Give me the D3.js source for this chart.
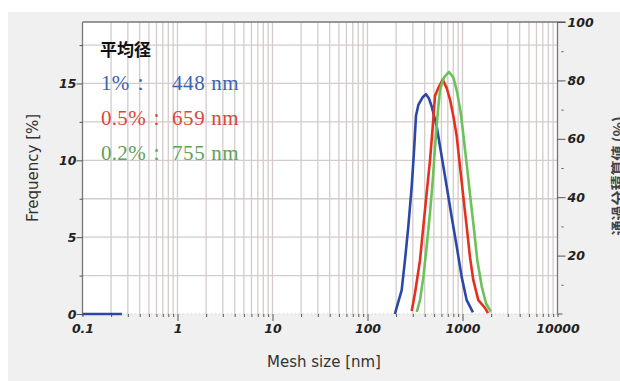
<!DOCTYPE html>
<html>
<head>
<meta charset="utf-8">
<script src="https://cdnjs.cloudflare.com/ajax/libs/d3/7.8.5/d3.min.js"></script>
<style>
  body { margin: 0; background: #fff; }
  svg { display: block; }
</style>
</head>
<body>
<svg id="chart" width="620" height="381"></svg>
<script>
// data: [size nm, frequency %]
var blueData = [[194, 0], [229, 1.56], [248, 3.5], [269, 5.7], [292, 8.3], [308, 10.5], [324, 12.9], [343, 13.6],
  [380, 14.1], [413, 14.3], [445, 14.0], [474, 13.5], [535, 12.2], [604, 10.25], [682, 8.3], [770, 6.3], [869, 4.4], [981, 2.4],
  [1107, 0.9], [1288, 0.1]]
var redData = [[292, 0.2], [316, 1.35], [357, 3.5], [387, 5.7], [420, 7.9], [455, 10.0], [486, 12.2], [514, 14.2],
  [556, 14.7], [619, 15.25], [682, 14.7], [739, 13.95], [800, 12.9], [868, 11.6], [941, 9.6], [1019, 7.65],
  [1106, 5.7], [1199, 3.7], [1300, 2.2], [1467, 0.9], [1725, 0.4], [1855, 0.05]]
var greenData = [[330, 0.13], [357, 0.9], [387, 2.4], [420, 4.4], [455, 6.6], [486, 8.7], [514, 10.9], [549, 13.1],
  [580, 14.6], [638, 15.4], [721, 15.75], [800, 15.4], [881, 14.4], [957, 13.1], [1037, 11.3], [1124, 9.4],
  [1219, 7.4], [1321, 5.5], [1432, 3.5], [1593, 1.8], [1766, 0.7], [1982, 0.15]]
var blueBase = [[0.1, 0], [0.26, 0]]

var xTickVals = [0.1, 1, 10, 100, 1000, 10000]
var xTickLabels = ['0.1', '1', '10', '100', '1000', '10000']
var yTickVals = [0, 5, 10, 15]
var y2TickVals = [20, 40, 60, 80, 100]

var legendTitle = '平均径'
var legendRows = [
  { pct: '1%：', val: '448 nm', color: '#3d63ae' },
  { pct: '0.5%：', val: '659 nm', color: '#d9483a' },
  { pct: '0.2%：', val: '755 nm', color: '#5ea256' }
]

var svg = d3.select('#chart')

var margin = { left: 82.5, right: 62.5, top: 22, bottom: 67 }
var W = 620, H = 381

// gray panel
svg.append('rect').attr('x', 8).attr('y', 12).attr('width', W - 8).attr('height', H - 12).attr('fill', '#f0f0f0')

var x = d3.scaleLog().domain([0.1, 10000]).range([margin.left, W - margin.right])
var y = d3.scaleLinear().domain([0, 19]).range([H - margin.bottom, margin.top])
var y2 = d3.scaleLinear().domain([0, 100]).range([H - margin.bottom, margin.top])

var x0 = x.range()[0], x1 = x.range()[1], yb = y.range()[0], yt = y.range()[1]

svg.append('rect').attr('x', x0).attr('y', yt).attr('width', x1 - x0).attr('height', yb - yt).attr('fill', '#fff')

// grid
var xGrid = []
for (var e = -1; e < 4; e++) {
  for (var m = 1; m < 10; m++) xGrid.push(m * Math.pow(10, e))
}
var yGrid = d3.range(2.5, 19, 2.5)

var grid = svg.append('g')
grid.selectAll('.vg').data(xGrid.filter(function (d) { return d > 0.1 }))
  .enter().append('line')
  .attr('x1', function (d) { return x(d) }).attr('x2', function (d) { return x(d) })
  .attr('y1', yt).attr('y2', yb)
  .attr('stroke', '#d3cbcb').attr('stroke-width', 1.3)
grid.selectAll('.hg').data(yGrid)
  .enter().append('line')
  .attr('x1', x0).attr('x2', x1)
  .attr('y1', function (d) { return y(d) }).attr('y2', function (d) { return y(d) })
  .attr('stroke', '#d6cbcb').attr('stroke-width', 1.3)

// frame
svg.append('line').attr('x1', x0).attr('x2', x1 + 8).attr('y1', yt).attr('y2', yt).attr('stroke', '#777').attr('stroke-width', 1.3)
svg.append('line').attr('x1', x0).attr('x2', x0).attr('y1', yt).attr('y2', yb + 2).attr('stroke', '#777').attr('stroke-width', 1.3)
svg.append('line').attr('x1', x1).attr('x2', x1).attr('y1', yt).attr('y2', yb).attr('stroke', '#777').attr('stroke-width', 1.3)
svg.append('line').attr('x1', x1).attr('x2', x1 + 5).attr('y1', yb).attr('y2', yb).attr('stroke', '#777').attr('stroke-width', 1.3)
svg.append('line').attr('x1', x0).attr('x2', x1).attr('y1', yb).attr('y2', yb)
  .attr('stroke', '#d8d4c8').attr('stroke-width', 1).attr('stroke-dasharray', '2,2')

var tickFont = 'DejaVu Sans, Verdana, sans-serif'

// x axis
var xAxis = d3.axisBottom(x)
  .tickValues(xGrid.concat([10000]))
  .tickSize(3)
  .tickFormat(function (d) {
    var i = xTickVals.indexOf(d)
    return i >= 0 ? xTickLabels[i] : ''
  })
var gx = svg.append('g').attr('transform', 'translate(0,' + yb + ')').call(xAxis)
gx.select('.domain').remove()
gx.selectAll('.tick line')
  .attr('stroke', '#555')
  .attr('y2', function (d) { return xTickVals.indexOf(d) >= 0 && d > 0.1 && d < 10000 ? 7 : 3 })
gx.selectAll('.tick text')
  .attr('y', 10)
  .attr('dy', '0.71em')
  .attr('font-family', tickFont).attr('font-size', 12.5)
  .attr('font-weight', 'bold').attr('font-style', 'italic')
  .attr('fill', '#222')

// left axis
var yAxis = d3.axisLeft(y).tickValues(yTickVals.concat([2.5, 7.5, 12.5, 17.5]))
  .tickSize(6)
  .tickFormat(function (d) { return yTickVals.indexOf(d) >= 0 ? d : '' })
var gy = svg.append('g').attr('transform', 'translate(' + x0 + ',0)').call(yAxis)
gy.select('.domain').remove()
gy.selectAll('.tick line').attr('stroke', '#555')
  .attr('x2', function (d) { return yTickVals.indexOf(d) >= 0 ? -6 : -3 })
gy.selectAll('.tick text')
  .attr('x', -6)
  .attr('font-family', tickFont).attr('font-size', 12.5)
  .attr('font-weight', 'bold').attr('font-style', 'italic')
  .attr('fill', '#222')

// right axis
var y2Axis = d3.axisRight(y2).tickValues(y2TickVals.concat([10, 30, 50, 70, 90]))
  .tickSize(8)
  .tickFormat(function (d) { return y2TickVals.indexOf(d) >= 0 ? d : '' })
var gy2 = svg.append('g').attr('transform', 'translate(' + x1 + ',0)').call(y2Axis)
gy2.select('.domain').remove()
gy2.selectAll('.tick line').attr('stroke', '#555')
  .attr('x1', function (d) { return y2TickVals.indexOf(d) >= 0 ? 0 : 4 })
  .attr('x2', function (d) { return y2TickVals.indexOf(d) >= 0 ? 8 : 6 })
gy2.selectAll('.tick text')
  .attr('x', 10)
  .attr('font-family', tickFont).attr('font-size', 12.5)
  .attr('font-weight', 'bold').attr('font-style', 'italic')
  .attr('fill', '#222')

// axis titles
svg.append('text')
  .attr('transform', 'translate(38,' + ((yt + yb) / 2) + ') rotate(-90)')
  .attr('text-anchor', 'middle')
  .attr('font-family', tickFont).attr('font-size', 15).attr('fill', '#333')
  .text('Frequency [%]')
svg.append('text')
  .attr('x', (x0 + x1) / 2 + 4).attr('y', 367)
  .attr('text-anchor', 'middle')
  .attr('font-family', tickFont).attr('font-size', 15).attr('fill', '#333')
  .text('Mesh size [nm]')
svg.append('text')
  .attr('transform', 'translate(624,' + 176 + ') rotate(-90)')
  .attr('text-anchor', 'middle')
  .attr('font-family', 'Noto Sans CJK JP, sans-serif').attr('font-size', 15).attr('font-weight', 'bold').attr('fill', '#444')
  .text('通過分積算値 (%)')

// curves
var line = d3.line()
  .x(function (d) { return x(d[0]) })
  .y(function (d) { return y(d[1]) })

var series = [
  { data: blueBase, color: '#2c47a6' },
  { data: blueData, color: '#2c47a6' },
  { data: redData, color: '#e5301f' },
  { data: greenData, color: '#6cc25a' }
]
svg.selectAll('.curve').data(series).enter().append('path')
  .attr('class', 'curve')
  .attr('d', function (d) { return line(d.data) })
  .attr('fill', 'none')
  .attr('stroke', function (d) { return d.color })
  .attr('stroke-width', 2.6)
  .attr('stroke-linejoin', 'round')

// legend
var serif = 'Liberation Serif, Times New Roman, serif'
svg.append('text')
  .attr('x', 100).attr('y', 56)
  .attr('font-family', 'Noto Sans CJK JP, sans-serif').attr('font-size', 17).attr('font-weight', 'bold')
  .attr('fill', '#111')
  .text(legendTitle)
var lg = svg.selectAll('.lrow').data(legendRows).enter().append('g')
  .attr('transform', function (d, i) { return 'translate(0,' + (90 + i * 35) + ')' })
lg.append('text').attr('x', 101).attr('y', 0)
  .attr('font-family', serif).attr('font-size', 21)
  .attr('letter-spacing', 0.3)
  .attr('fill', function (d) { return d.color })
  .text(function (d) { return d.pct })
lg.append('text').attr('x', 172).attr('y', 0)
  .attr('font-family', serif).attr('font-size', 21)
  .attr('letter-spacing', 0.6)
  .attr('fill', function (d) { return d.color })
  .text(function (d) { return d.val })
</script>
</body>
</html>
